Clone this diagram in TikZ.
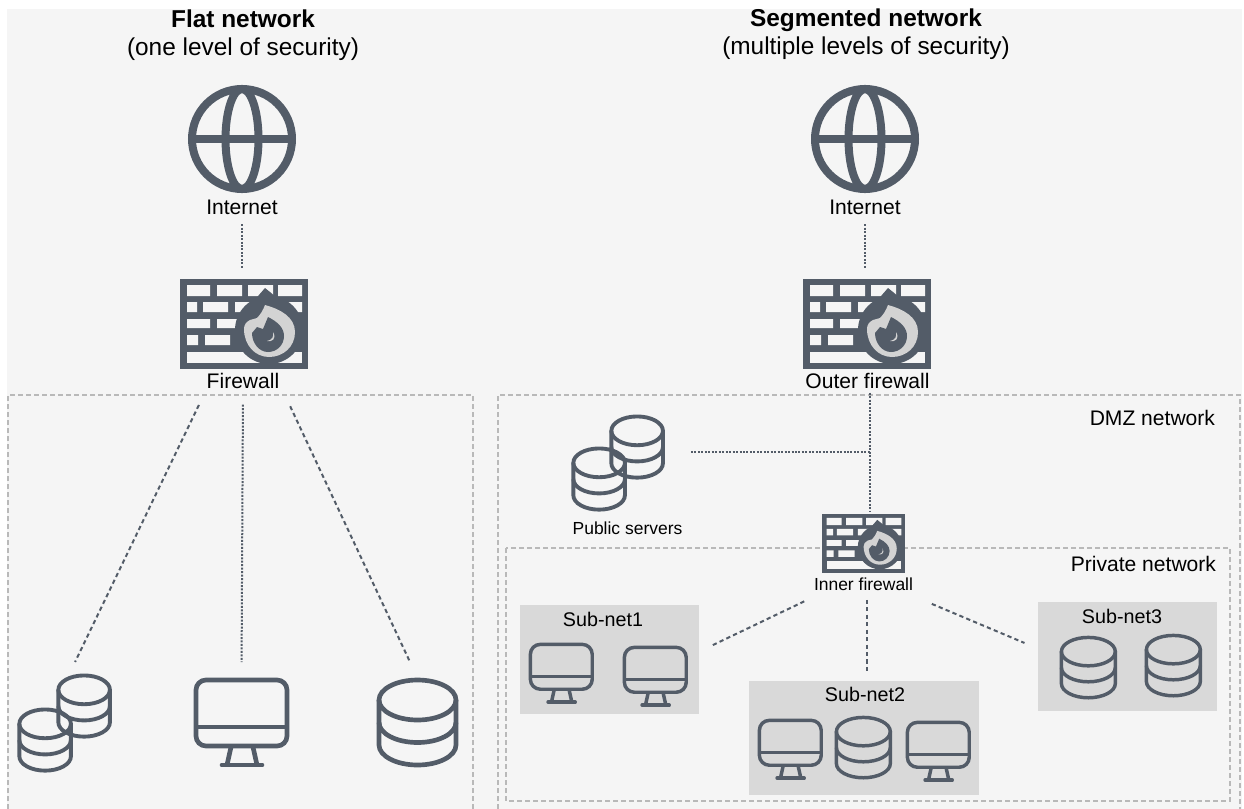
\documentclass[tikz,border=0pt]{standalone}
\usepackage{fontspec}
\setmainfont{Liberation Sans}
\usetikzlibrary{calc}

\definecolor{netgray}{HTML}{535C68}
\definecolor{paneback}{HTML}{F5F5F5}
\definecolor{flamegray}{HTML}{D3D3D3}
\definecolor{zoneline}{HTML}{B9B9B9}
\definecolor{subnetback}{HTML}{D9D9D9}

\tikzset{
    iconbox/.style 2 args={minimum width=#1*0.75pt, minimum height=#2*0.75pt, inner sep=0pt, outer sep=0pt, anchor=north west},
    subnetbox/.style 2 args={iconbox={#1}{#2}, fill=subnetback},
    textlabel/.style={inner sep=0pt, outer sep=0pt, font=\fontsize{15.8}{18}\selectfont},
    subnetlabel/.style={inner sep=0pt, outer sep=0pt, font=\fontsize{14.8}{18}\selectfont},
    smalllabel/.style={inner sep=0pt, outer sep=0pt, font=\fontsize{13.1}{15}\selectfont},
    titlelabel/.style={inner sep=0pt, align=center, font=\fontsize{18.3}{21}\selectfont},
    bigicon/.style={line width=3.5pt},
    smallicon/.style={scale=0.68, line width=2.6pt},
    smalldb/.style={xscale=0.70, yscale=0.71, line width=2.6pt},
    stackdb/.style={xscale=0.67, yscale=0.72, line width=2.9pt},
    netlink/.style={netgray, line width=1.5pt, dash pattern=on 3.2pt off 2.4pt},
    finelink/.style={netgray, line width=1.5pt, dash pattern=on 1.5pt off 1.1pt},
    zonebox/.style={zoneline, line width=1.5pt, dash pattern=on 3.75pt off 2.25pt},
    % the icons are drawn from their top left corner
    globe/.pic={
        \draw[netgray, line width=6pt] (54,54) circle (50);
        \draw[netgray, line width=6pt] (54,54) ellipse [x radius=16.5, y radius=50];
        \draw[netgray, line width=6pt] (4,54) -- (104,54);
    },
    monitor/.pic={
        \draw[netgray, rounded corners=10*0.75pt] (2,2) rectangle (93,68);
        \draw[netgray] (2,49) -- (93,49);
        \draw[netgray, line join=round] (37,69) -- (33,87) (59,69) -- (63,87);
        \draw[netgray, line cap=round] (28,87) -- (68,87);
    },
    database/.pic={
        \draw[netgray] (40.5,22) ellipse [x radius=38.5, y radius=20];
        \draw[netgray] (2,22) -- (2,67) arc [start angle=180, end angle=0, x radius=38.5, y radius=20] -- (79,22);
        \draw[netgray] (2,44.5) arc [start angle=180, end angle=0, x radius=38.5, y radius=20];
    },
    firewall/.pic={
        \fill[netgray] (0,0) rectangle (128,90);
        % the bricks, row by row
        \fill[paneback] (7,6) rectangle (30,17) (37,6) rectangle (62,17) (68,6) rectangle (93,17) (98,6) rectangle (122,17);
        \fill[paneback] (7,23) rectangle (17,33) (23,23) rectangle (48,33) (55,23) rectangle (80,33) (92,23) rectangle (122,33);
        \fill[paneback] (7,40) rectangle (30,49) (37,40) rectangle (62,49);
        \fill[paneback] (7,56) rectangle (18,66) (25,56) rectangle (50,66);
        \fill[paneback] (7,73) rectangle (122,84);
        % the flame on top
        \fill[netgray] (89,51) circle (34);
        \fill[netgray] (66,28) -- (72,24) -- (85,9) -- (106,26) -- cycle;
        \fill[flamegray] (64,50) .. controls (64,46) and (66,43) .. (70,41) -- (77,39) .. controls (81,35) and (83,31) .. (85,26)
            .. controls (100,30) and (115,38) .. (115,53) .. controls (115,68) and (103,78) .. (89,78) .. controls (75,78) and (64,66) .. (64,50) -- cycle;
        \fill[netgray] (72,54) -- (77,48) -- (83,50) -- (88,38) .. controls (98,43) and (104,49) .. (104,57) .. controls (104,66) and (97,73) .. (88,73) .. controls (79,73) and (72,64) .. (72,54) -- cycle;
        \fill[flamegray] (93,53) .. controls (94,58) and (92,61) .. (87,62) .. controls (92,63) and (97,60) .. (93,53) -- cycle;
    }
}

\begin{document}
\begin{tikzpicture}[x=0.75pt, y=-0.75pt]
    \useasboundingbox (0,0) rectangle (1244,809);
    \fill[paneback] (7,9) rectangle (1242,809);

    % Draw the dashed zones
    \draw[zonebox] (8,809) -- (8,395) -- (473,395) -- (473,809);
    \draw[zonebox] (498,809) -- (498,395) -- (1240,395) -- (1240,809);
    \draw[zonebox] (506,548) rectangle (1230,801);

    % Titles
    \node[titlelabel] (flattitle) at (243,35.5) {\textbf{Flat network}\\(one level of security)};
    \node[titlelabel] (segtitle) at (866,34.5) {\textbf{Segmented network}\\(multiple levels of security)};

    % Flat network
    \node[iconbox={108}{108}] (flatglobe) at (188,85) {};
    \pic at (flatglobe.north west) {globe};
    \node[textlabel] (flatinternet) at (242,207.5) {Internet};
    \node[iconbox={128}{90}] (flatwall) at (180,279) {};
    \pic at (flatwall.north west) {firewall};
    \node[textlabel] (flatfirewall) at (243,381) {Firewall};

    \node[iconbox={94}{98}] (flatstack) at (18,674) {};
    \pic[stackdb] at (57,674) {database};
    \pic[stackdb] at (18,708) {database};
    \node[iconbox={95}{89}] (flatpc) at (194,678) {};
    \pic[bigicon] at (flatpc.north west) {monitor};
    \node[iconbox={81}{89}] (flatdb) at (377,678) {};
    \pic[bigicon] at (flatdb.north west) {database};

    \draw[finelink, shorten <=7pt, shorten >=8pt] (flatinternet.south) -- (flatinternet.south |- flatwall.north);
    \draw[netlink, shorten <=13.5pt, shorten >=10pt] (flatfirewall.south west) -- (flatstack.85);
    \draw[finelink, shorten <=12pt, shorten >=12pt] (flatfirewall.south) -- (flatpc.north);
    \draw[netlink, shorten <=14.5pt, shorten >=13pt] ([xshift=2pt]flatfirewall.south east) -- (flatdb.north);

    % Segmented network, DMZ part
    \node[iconbox={108}{108}] (segglobe) at (811,85) {};
    \pic at (segglobe.north west) {globe};
    \node[textlabel] (seginternet) at (865,207.5) {Internet};
    \node[iconbox={128}{90}] (outerwall) at (803,279) {};
    \pic at (outerwall.north west) {firewall};
    \node[textlabel] (outerfirewall) at (867.5,381) {Outer firewall};
    \node[textlabel, anchor=east] (dmzlabel) at (1215,418) {DMZ network};

    \node[iconbox={91}{96}] (pubstack) at (572,415) {};
    \pic[stackdb] at (610,415) {database};
    \pic[stackdb] at (572,447) {database};
    \node[smalllabel] (pubservers) at (627.5,528) {Public servers};

    \node[iconbox={83}{59}] (innerwall) at (822,514) {};
    \pic[scale=0.65] at (innerwall.north west) {firewall};
    \node[smalllabel] (innerfirewall) at (863.5,584) {Inner firewall};

    \coordinate (dmzjoin) at (870,452);
    \draw[finelink, shorten <=3pt, shorten >=1.5pt] (dmzjoin |- outerfirewall.south) -- (dmzjoin |- innerwall.north);
    \draw[finelink, shorten <=21pt] (pubstack.east |- dmzjoin) -- (dmzjoin);
    \draw[finelink, shorten <=7pt, shorten >=8pt] (seginternet.south) -- (seginternet.south |- outerwall.north);

    % Private network and the three sub-nets
    \node[textlabel, anchor=east] (privatelabel) at (1216,564) {Private network};

    \node[subnetbox={179}{109}] (subnet1) at (520,605) {};
    \node[subnetlabel] (subnet1label) at (603,619.5) {Sub-net1};
    \pic[smallicon] at (529,643) {monitor};
    \pic[smallicon] at (623,646) {monitor};

    \node[subnetbox={230}{114}] (subnet2) at (749,681) {};
    \node[subnetlabel] (subnet2label) at (865,694.5) {Sub-net2};
    \pic[smallicon] at (758,719) {monitor};
    \pic[smalldb] at (835,716) {database};
    \pic[smallicon] at (906,721) {monitor};

    \node[subnetbox={179}{109}] (subnet3) at (1038,602) {};
    \node[subnetlabel] (subnet3label) at (1122,616) {Sub-net3};
    \pic[smalldb] at (1060,636) {database};
    \pic[smalldb] at (1145,634) {database};

    \draw[netlink, shorten <=19pt, shorten >=11pt] (innerfirewall.-170) -- (subnet1.5);
    \draw[netlink, shorten <=7pt, shorten >=6pt] ([xshift=2.4pt]innerfirewall.south) -- ([xshift=2.4pt]innerfirewall.south |- subnet2.north);
    \draw[netlink, shorten <=26pt, shorten >=11pt] (innerfirewall.-10) -- (subnet3.175);
\end{tikzpicture}
\end{document}
